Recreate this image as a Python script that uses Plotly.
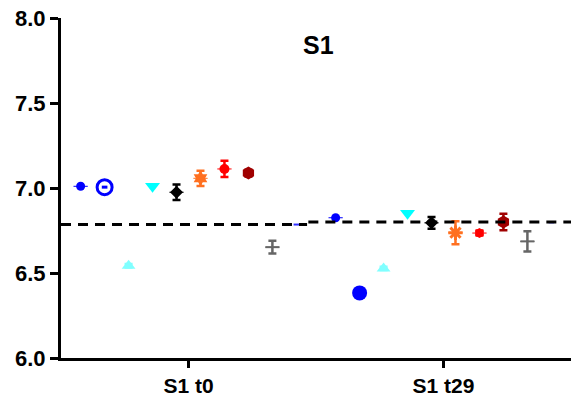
import plotly.graph_objects as go

categories = ["S1 t0", "S1 t29"]
series_names = ["s1", "s2", "s3", "s4", "s5", "s6", "s7", "s8", "s9", "s10"]
means_t0 = [7.01, 7.005, 6.543, 7.01, 6.975, 7.057, 7.112, 7.088, 6.652, 6.785]
sd_t0 = [0.0, 0.0, 0.01, 0.0, 0.046, 0.045, 0.048, 0.02, 0.037, 0.0]
means_t29 = [6.825, 6.383, 6.527, 6.851, 6.795, 6.737, 6.735, 6.800, 6.686, 6.798]
sd_t29 = [0.0, 0.012, 0.01, 0.0, 0.035, 0.068, 0.015, 0.049, 0.06, 0.0]
ref_t0 = 6.785
ref_t29 = 6.80
y_ticks = [6.0, 6.5, 7.0, 7.5, 8.0]

colors = ["#0000FF", "#0000FF", "#80FFFF", "#00FFFF", "#000000",
          "#FF7020", "#FF0000", "#A00000", "#666666", "#3030FF"]
sym_t0 = ["circle", "circle-open", "triangle-up", "triangle-down", "diamond",
          "hexagram", "circle", "hexagon", "line-ew", "line-ew"]
sym_t29 = ["circle", "circle", "triangle-up", "triangle-down", "diamond",
           "asterisk-open", "hexagon", "hexagon", "line-ew", "line-ew"]
sizes = [9, 15, 12, 13, 10, 12, 10, 13, 10, 4]

step = 0.094
fig = go.Figure()

for ci, (means, sds, syms) in enumerate([(means_t0, sd_t0, sym_t0), (means_t29, sd_t29, sym_t29)]):
    for k in range(len(series_names)):
        xpos = ci + (k - 4.5) * step
        sym = syms[k]
        mline = dict(color=colors[k], width=3 if sym in ("circle-open", "asterisk-open") else 0)
        if sym == "line-ew":
            mline["width"] = 2
        ecol = colors[k]
        sdv = sds[k]
        evis = sdv > 0
        white = (ci == 1 and k == 1)
        if white:
            ecol = "white"
        fig.add_trace(go.Scatter(
            x=[xpos], y=[means[k]], mode="markers",
            marker=dict(symbol=sym, size=sizes[k], color=colors[k], line=mline),
            error_y=dict(type="data", array=[sdv], color=ecol, thickness=1.5 if white else 2.5,
                         width=3 if white else 4, visible=evis),
            error_x=dict(type="constant", value=0.028 if k != 1 else 0.011, color=colors[k],
                         thickness=1 if k != 1 else 3, width=0,
                         visible=(k in (0, 4, 5, 6, 8)) or (k == 1 and ci == 0)),
            showlegend=False, hoverinfo="skip"))

# reference dashed lines
fig.add_trace(go.Scatter(x=[-0.5, 0.465], y=[ref_t0, ref_t0], mode="lines",
                         line=dict(color="black", width=3, dash="10px,7px"),
                         showlegend=False, hoverinfo="skip"))
fig.add_trace(go.Scatter(x=[0.47, 1.5], y=[ref_t29, ref_t29], mode="lines",
                         line=dict(color="black", width=3, dash="10px,7px"),
                         showlegend=False, hoverinfo="skip"))

fig.update_layout(
    width=571, height=405,
    margin=dict(l=61, r=0, t=18, b=47),
    plot_bgcolor="white", paper_bgcolor="white",
    font=dict(family="Arial, Liberation Sans, sans-serif", color="black"),
    annotations=[dict(text="<b>S1</b>", x=0.504, y=(358 - 45) / 340, xref="paper", yref="paper",
                      xanchor="center", yanchor="middle", showarrow=False,
                      font=dict(size=25, color="black", weight=700))],
)
fig.update_xaxes(
    range=[-0.5, 1.5], tickmode="array", tickvals=[0, 1],
    ticktext=[f"<b>{c}</b>" for c in categories],
    showline=True, linecolor="black", linewidth=3, ticks="outside", ticklen=7, tickwidth=3,
    tickcolor="black", showgrid=False, zeroline=False,
    tickfont=dict(size=21, color="black", weight=700),
)
fig.update_yaxes(
    range=[6.0, 8.0], tickmode="array", tickvals=y_ticks,
    ticktext=[f"<b>{v:.1f}</b>" for v in y_ticks],
    showline=True, linecolor="black", linewidth=3, ticks="outside", ticklen=8, tickwidth=3,
    tickcolor="black", showgrid=False, zeroline=False,
    tickfont=dict(size=22, color="black", weight=700),
)

fig.write_html("out.html")
